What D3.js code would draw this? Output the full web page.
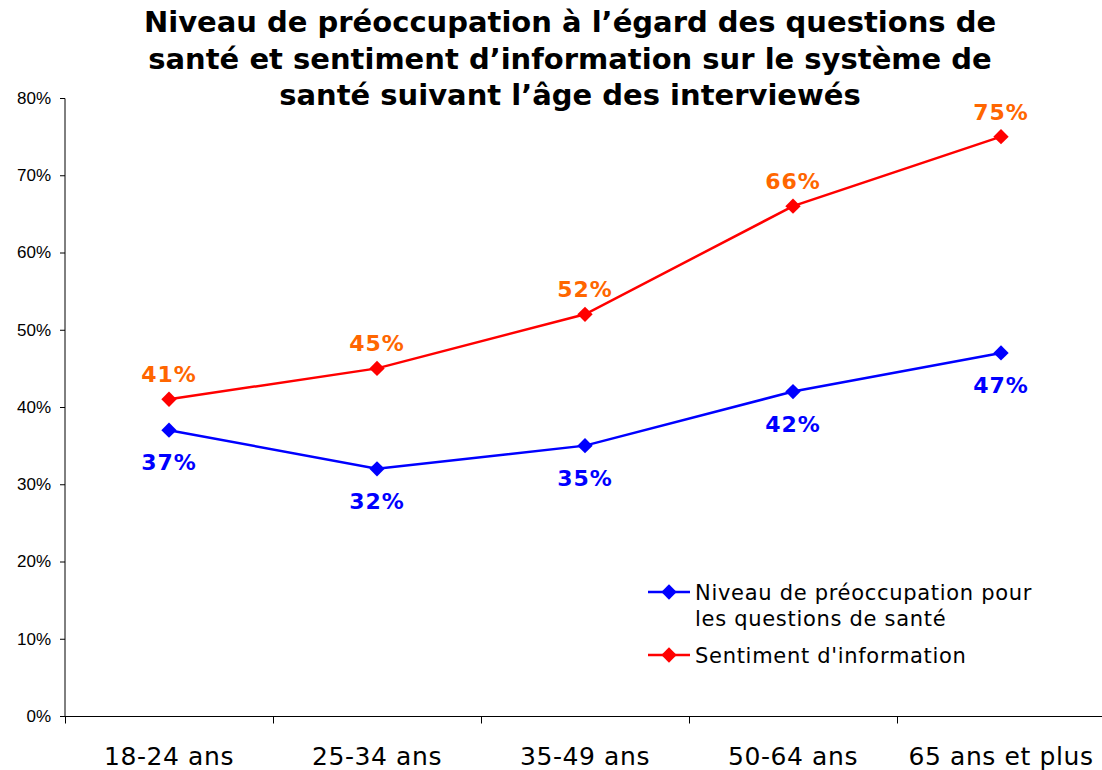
<!DOCTYPE html>
<html>
<head>
<meta charset="utf-8">
<script src="https://cdn.jsdelivr.net/npm/d3@7"></script>
<style>
  body { margin: 0; background: #fff; }
  svg { display: block; }
</style>
</head>
<body>
<svg></svg>
<script>
var width = 1102, height = 770;
var categories = ["18-24 ans", "25-34 ans", "35-49 ans", "50-64 ans", "65 ans et plus"];
var preoccupation = [37, 32, 35, 42, 47];
var information = [41, 45, 52, 66, 75];
var yTicks = [0, 10, 20, 30, 40, 50, 60, 70, 80];
var seriesNames = ["Niveau de préoccupation pour|les questions de santé", "Sentiment d'information"];
var titleLines = ["Niveau de préoccupation à l’égard des questions de",
                  "santé et sentiment d’information sur le système de",
                  "santé suivant l’âge des interviewés"];

var svg = d3.select("svg").attr("width", width).attr("height", height);

var xScale = d3.scaleBand().domain(categories).range([65, 1105]);
var yScale = d3.scaleLinear().domain([0, 80]).range([716, 98]);

// title
svg.append("g").selectAll("text")
   .data(titleLines)
   .enter()
   .append("text")
   .attr("x", 570)
   .attr("y", (d, i) => 32 + i * 36.5)
   .attr("text-anchor", "middle")
   .style("font-family", "DejaVu Sans")
   .style("font-weight", "bold")
   .style("font-size", "29px")
   .text(d => d);

// y axis
var yAxis = d3.axisLeft(yScale).tickValues(yTicks).tickSize(5).tickFormat(d => d + "%");
var gy = svg.append("g").attr("transform", "translate(65,0)").call(yAxis);
gy.select(".domain").attr("stroke", "#000").attr("d", "M-5,98.5H0V716.5H-5");
gy.selectAll("text").style("font-family", "Liberation Sans").style("font-size", "17px").attr("fill", "#000").attr("x", -14);

// x axis with ticks at band edges
var gx = svg.append("g").attr("transform", "translate(0,716.5)");
gx.append("line").attr("x1", 65).attr("x2", 1102).attr("stroke", "#000");
gx.selectAll(".tk")
  .data(categories)
  .enter()
  .append("line")
  .attr("x1", d => xScale(d) + 0.5)
  .attr("x2", d => xScale(d) + 0.5)
  .attr("y1", 0).attr("y2", 7)
  .attr("stroke", "#000");
gx.selectAll(".lbl")
  .data(categories)
  .enter()
  .append("text")
  .attr("x", d => xScale(d) + xScale.bandwidth() / 2)
  .attr("y", 48)
  .attr("text-anchor", "middle")
  .style("font-family", "DejaVu Sans")
  .style("font-size", "25px")
  .style("letter-spacing", "0.6px")
  .text(d => d);

var cx = d => xScale(d) + xScale.bandwidth() / 2;
var line = d3.line().x(d => cx(d.c)).y(d => yScale(d.v));
var diamond = d3.symbol().type(d3.symbolDiamond2).size(150);

function drawSeries(values, color, labelColor, dy) {
  var pts = values.map((v, i) => ({c: categories[i], v: v}));
  svg.append("path").datum(pts)
     .attr("d", line).attr("fill", "none").attr("stroke", color).attr("stroke-width", 2.5);
  svg.append("g").selectAll("path")
     .data(pts).enter().append("path")
     .attr("d", diamond)
     .attr("transform", d => "translate(" + cx(d.c) + "," + yScale(d.v) + ")")
     .attr("fill", color);
  svg.append("g").selectAll("text")
     .data(pts).enter().append("text")
     .attr("x", d => cx(d.c))
     .attr("y", d => yScale(d.v) + dy)
     .attr("text-anchor", "middle")
     .style("font-family", "DejaVu Sans")
     .style("font-weight", "bold")
     .style("font-size", "22px")
     .style("letter-spacing", "1px")
     .attr("fill", labelColor)
     .text(d => d.v + "%");
}
drawSeries(preoccupation, "#0000FF", "#0000FF", 40);
drawSeries(information, "#FF0000", "#FF6600", -17);

// legend
var legend = [{name: seriesNames[0], color: "#0000FF", y: 592},
              {name: seriesNames[1], color: "#FF0000", y: 655}];
var lg = svg.append("g").selectAll("g").data(legend).enter().append("g");
lg.append("line").attr("x1", 648).attr("x2", 690)
  .attr("y1", d => d.y).attr("y2", d => d.y)
  .attr("stroke", d => d.color).attr("stroke-width", 2.5);
lg.append("path").attr("d", diamond)
  .attr("transform", d => "translate(669," + d.y + ")")
  .attr("fill", d => d.color);
lg.each(function(d) {
  var t = d3.select(this).append("text")
    .attr("x", 695).attr("y", d.y + 8)
    .style("font-family", "DejaVu Sans").style("font-size", "21px")
    .style("letter-spacing", "0.7px");
  d.name.split("|").forEach((s, i) => {
    t.append("tspan").attr("x", 695).attr("dy", i ? 26 : 0).text(s);
  });
});
</script>
</body>
</html>
